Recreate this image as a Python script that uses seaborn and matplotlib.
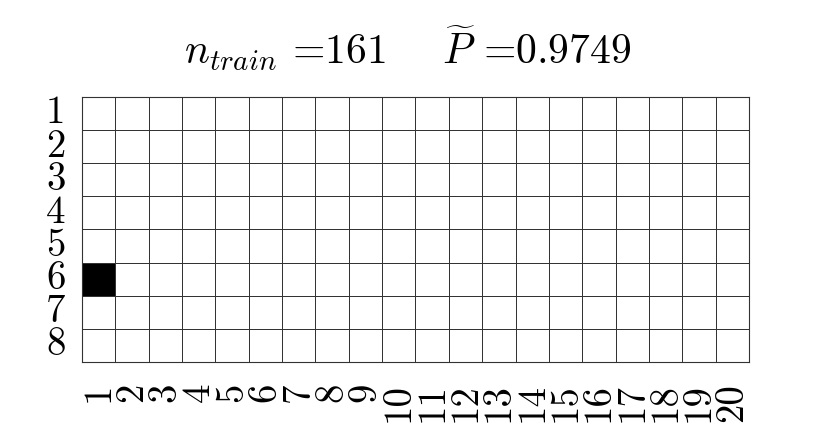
import matplotlib
matplotlib.use("Agg")
import matplotlib.pyplot as plt
import seaborn as sns
import numpy as np
import pandas as pd

row_labels = ["1", "2", "3", "4", "5", "6", "7", "8"]
col_labels = [str(i) for i in range(1, 21)]
cell_values = [
    [0, 0, 0, 0, 0, 0, 0, 0, 0, 0, 0, 0, 0, 0, 0, 0, 0, 0, 0, 0],
    [0, 0, 0, 0, 0, 0, 0, 0, 0, 0, 0, 0, 0, 0, 0, 0, 0, 0, 0, 0],
    [0, 0, 0, 0, 0, 0, 0, 0, 0, 0, 0, 0, 0, 0, 0, 0, 0, 0, 0, 0],
    [0, 0, 0, 0, 0, 0, 0, 0, 0, 0, 0, 0, 0, 0, 0, 0, 0, 0, 0, 0],
    [0, 0, 0, 0, 0, 0, 0, 0, 0, 0, 0, 0, 0, 0, 0, 0, 0, 0, 0, 0],
    [1, 0, 0, 0, 0, 0, 0, 0, 0, 0, 0, 0, 0, 0, 0, 0, 0, 0, 0, 0],
    [0, 0, 0, 0, 0, 0, 0, 0, 0, 0, 0, 0, 0, 0, 0, 0, 0, 0, 0, 0],
    [0, 0, 0, 0, 0, 0, 0, 0, 0, 0, 0, 0, 0, 0, 0, 0, 0, 0, 0, 0],
]
n_train = 161
p_tilde = 0.9749

plt.rcParams["mathtext.fontset"] = "cm"
plt.rcParams["font.family"] = ["cmr10", "DejaVu Serif"]
plt.rcParams["axes.unicode_minus"] = False

df = pd.DataFrame(cell_values, index=row_labels, columns=col_labels)

fig = plt.figure(figsize=(8.3, 4.43), dpi=100)
ax = fig.add_axes([0.0988, 0.183, 0.8036, 0.598])
sns.heatmap(df, ax=ax, cmap="binary", vmin=0, vmax=1, cbar=False,
            linewidths=0.5, linecolor="#333333", square=False)
for sp in ax.spines.values():
    sp.set_visible(True)
    sp.set_linewidth(0.8)
    sp.set_color("#333333")

ax.tick_params(axis="y", length=0, pad=12)
ax.tick_params(axis="x", length=0, pad=15)
ax.set_yticklabels(row_labels, rotation=0, fontsize=28)
ax.set_xticklabels(col_labels, rotation=90, fontsize=28)
ax.set_xlabel("")
ax.set_ylabel("")
ax.set_title(r"$n_{train}$ =%d    $\widetilde{P}$ =%.4f" % (n_train, p_tilde),
             fontsize=30, pad=24, x=0.489)

fig.savefig("out.png", dpi=100)
